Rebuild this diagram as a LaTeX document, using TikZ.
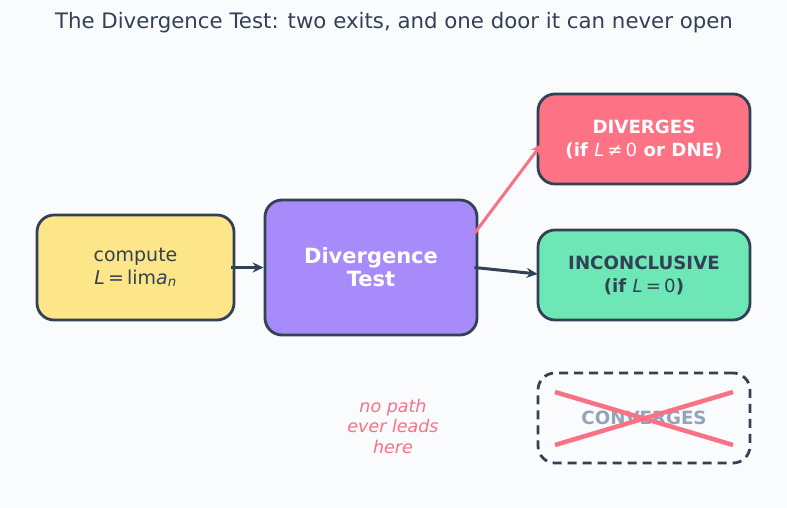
\documentclass[tikz,border=0pt]{standalone}
\usepackage{fontspec}
\setmainfont{DejaVu Sans}
\usetikzlibrary{arrows.meta,calc}
\definecolor{bg}{HTML}{FAFBFD}
\definecolor{ink}{HTML}{334155}
\definecolor{yel}{HTML}{FDE68A}
\definecolor{pur}{HTML}{A78BFA}
\definecolor{redf}{HTML}{FD7385}
\definecolor{grn}{HTML}{6EE7B7}
\definecolor{gry}{HTML}{94A3B8}
\definecolor{pnk}{HTML}{F87185}
\tikzset{
  box/.style={draw=ink, line width=2.8pt, rounded corners=17pt, align=center, inner sep=0pt},
  arr/.style={line width=3pt, -{Stealth[length=11pt,width=10pt]}},
  ttl/.style={font=\fontsize{21.3}{25}\selectfont, text=ink},
}
\begin{document}
\begin{tikzpicture}[x=1pt,y=-1pt]
\useasboundingbox[fill=bg] (0,0) rectangle (787,508);
\node[ttl] (title) at (394,23) {The Divergence Test: two exits, and one door it can never open};
\node[box, fill=yel, minimum width=197pt, minimum height=105pt, text=ink,
  font=\fontsize{19}{23}\selectfont] (compute) at (135.5,267.5)
  {compute\\\textit{L}\,=\,lim\textit{a}\textsubscript{\textit{n}}};
\node[box, fill=pur, minimum width=212pt, minimum height=135pt, text=white,
  font=\bfseries\fontsize{21}{23}\selectfont] (test) at (371,267.5)
  {Divergence\\Test};
\node[box, fill=redf, minimum width=212pt, minimum height=90pt, text=white,
  font=\bfseries\fontsize{18.2}{23}\selectfont] (div) at (644,139)
  {DIVERGES\\(if {\mdseries\textit{L}\,≠\,0} or DNE)};
\node[box, fill=grn, minimum width=212pt, minimum height=90pt, text=ink,
  font=\bfseries\fontsize{18.2}{23}\selectfont] (inc) at (644,275)
  {INCONCLUSIVE\\(if {\mdseries\textit{L}\,=\,0})};
\node[box, dash pattern=on 9pt off 6pt, minimum width=212pt, minimum height=90pt, text=gry,
  font=\bfseries\fontsize{18.2}{23}\selectfont] (conv) at (644,418)
  {CONVERGES};
\draw[pnk, line width=4.5pt] ($(conv.center)+(-89,-26)$) -- ($(conv.center)+(89,27)$);
\draw[pnk, line width=4.5pt] ($(conv.center)+(-89,27)$) -- ($(conv.center)+(89,-26)$);
\node[text=pnk, align=center, font=\itshape\fontsize{17.5}{20.5}\selectfont] (note) at (393,426)
  {no path\\ever leads\\here};
\draw[arr, ink] ($(compute.east)+(-4,0)$) -- (test.west);
\draw[arr, pnk] ($(test.east)+(-4,-34)$) -- ($(div.west)+(5,5)$);
\draw[arr, ink] ($(test.east)+(-4,0)$) -- ($(inc.west)+(1,-1)$);
\end{tikzpicture}
\end{document}
